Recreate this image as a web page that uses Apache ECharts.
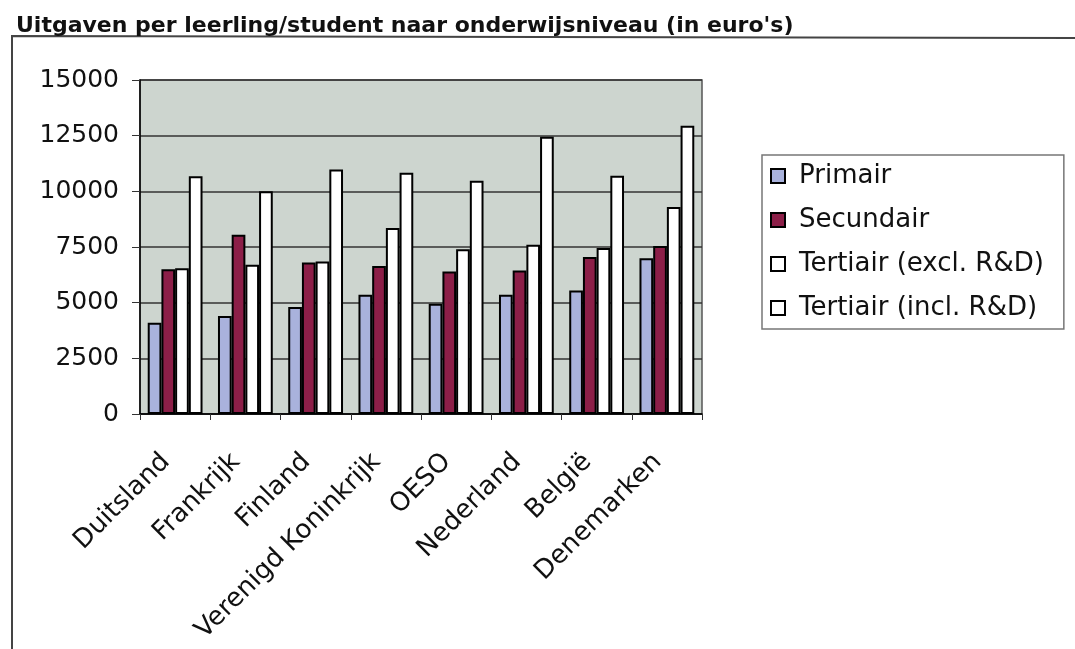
<!DOCTYPE html>
<html>
<head>
<meta charset="utf-8">
<script src="https://cdn.jsdelivr.net/npm/echarts@6/dist/echarts.min.js"></script>
<style>
html,body{margin:0;padding:0;background:#fff;}
#chart{width:1075px;height:649px;}
</style>
</head>
<body>
<div id="chart"></div>
<script>
var titleText = "Uitgaven per leerling/student naar onderwijsniveau (in euro's)";
var categories = ["Duitsland", "Frankrijk", "Finland", "Verenigd Koninkrijk", "OESO", "Nederland", "België", "Denemarken"];
var seriesNames = ["Primair", "Secundair", "Tertiair (excl. R&D)", "Tertiair (incl. R&D)"];
var primair   = [4100, 4400, 4800, 5350, 4950, 5350, 5550, 7000];
var secundair = [6500, 8050, 6800, 6650, 6400, 6450, 7050, 7550];
var tertExcl  = [6550, 6700, 6850, 8350, 7400, 7600, 7450, 9300];
var tertIncl  = [10680, 10000, 10980, 10830, 10480, 12450, 10700, 12950];
var yTicks = [0, 2500, 5000, 7500, 10000, 12500, 15000];

var colors = ["#a9b2dc", "#8c1f48", "#ffffff", "#ffffff"];
var seriesData = [primair, secundair, tertExcl, tertIncl];
var FONT = "DejaVu Sans";

var chart = echarts.init(document.getElementById('chart'), null, {renderer: 'canvas'});
var series = seriesData.map(function (d, i) {
  return {
    name: seriesNames[i],
    type: 'bar',
    data: d,
    barGap: '0%',
    barCategoryGap: '22%',
    itemStyle: {color: colors[i], borderColor: '#000', borderWidth: 2},
    emphasis: {disabled: true}
  };
});

chart.setOption({
  animation: false,
  backgroundColor: '#fff',
  title: {
    text: titleText,
    left: 11, top: 10,
    textStyle: {fontFamily: FONT, fontWeight: 'bold', fontSize: 22, color: '#111'}
  },
  grid: {
    left: 140, right: 373, top: 80, bottom: 235,
    show: true, backgroundColor: '#cdd5cf', borderColor: '#555', borderWidth: 1.5
  },
  legend: {
    orient: 'vertical',
    left: 762, top: 155,
    padding: [8, 20, 8, 8],
    borderColor: '#777', borderWidth: 1.5,
    backgroundColor: '#fff',
    itemWidth: 14, itemHeight: 14, itemGap: 18,
    icon: 'rect',
    textStyle: {fontFamily: FONT, fontSize: 26, color: '#111', lineHeight: 26, padding: [0, 0, 0, 9]},
    data: seriesNames.map(function (n, i) {
      return {name: n, itemStyle: {color: colors[i], borderColor: '#000', borderWidth: 2}};
    })
  },
  xAxis: {
    type: 'category',
    data: categories,
    axisLine: {lineStyle: {color: '#000', width: 1.5}},
    axisTick: {show: true, length: 6, lineStyle: {color: '#333'}},
    axisLabel: {
      rotate: 45, margin: 53, interval: 0,
      verticalAlign: 'bottom', align: 'right',
      fontFamily: FONT, fontSize: 26, color: '#111'
    }
  },
  yAxis: {
    type: 'value',
    min: yTicks[0], max: yTicks[yTicks.length - 1], interval: 2500,
    axisLine: {show: true, lineStyle: {color: '#000', width: 1.5}},
    axisTick: {show: true, length: 8, lineStyle: {color: '#333'}},
    splitLine: {show: true, lineStyle: {color: '#333', width: 1.5}},
    axisLabel: {
      margin: 21, fontFamily: FONT, fontSize: 25, color: '#111',
      formatter: function (v) { return String(v); }
    }
  },
  graphic: [{
    type: 'polyline',
    shape: {points: [[12, 649], [12, 36], [1075, 38]]},
    style: {stroke: '#444', lineWidth: 2, fill: null},
    silent: true
  }],
  series: series
});
</script>
</body>
</html>
